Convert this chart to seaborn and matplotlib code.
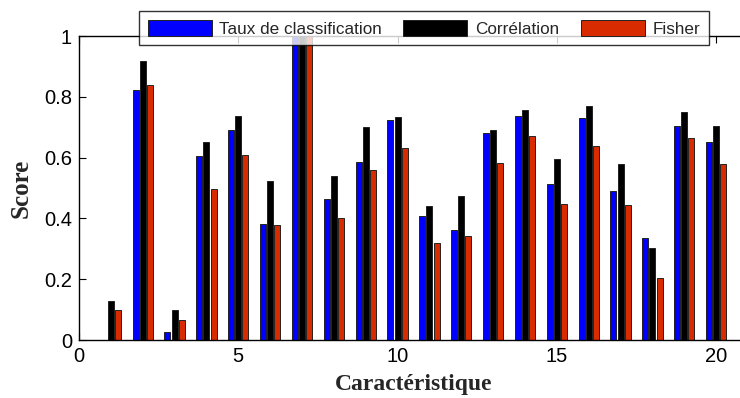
import numpy as np
import pandas as pd
import seaborn as sns
import matplotlib.pyplot as plt
from matplotlib.ticker import FixedLocator

features = list(range(1, 21))
taux = [0.0, 0.822, 0.027, 0.606, 0.690, 0.383, 1.0, 0.464, 0.584, 0.724,
        0.409, 0.361, 0.680, 0.736, 0.512, 0.729, 0.491, 0.336, 0.705, 0.651]
correlation = [0.129, 0.918, 0.099, 0.652, 0.736, 0.524, 1.0, 0.539, 0.702, 0.735,
               0.440, 0.473, 0.692, 0.758, 0.595, 0.770, 0.579, 0.302, 0.750, 0.704]
fisher = [0.099, 0.838, 0.066, 0.497, 0.610, 0.377, 1.0, 0.400, 0.560, 0.630,
          0.318, 0.343, 0.581, 0.672, 0.447, 0.639, 0.443, 0.205, 0.663, 0.580]
series_names = ["Taux de classification", "Corrélation", "Fisher"]
colors = ["#0000FF", "#000000", "#D92B00"]
yticks = [0, 0.2, 0.4, 0.6, 0.8, 1.0]
ytick_labels = ["0", "0.2", "0.4", "0.6", "0.8", "1"]
xticks = [0, 5, 10, 15, 20]

df = pd.DataFrame({
    "Caractéristique": features * 3,
    "Score": taux + correlation + fisher,
    "Méthode": [n for n in series_names for _ in features],
})

sns.set_theme(style="white")
plt.rcParams["font.family"] = ["Liberation Sans", "DejaVu Sans"]

fig = plt.figure(figsize=(7.4, 3.98), dpi=100)
ax = fig.add_axes([79 / 740, 1 - 340 / 398, (748 - 79) / 740, (340 - 36) / 398])

sns.barplot(data=df, x="Caractéristique", y="Score", hue="Méthode",
            hue_order=series_names, palette=dict(zip(series_names, colors)),
            native_scale=True, width=0.667, gap=0.15, errorbar=None,
            saturation=1, edgecolor="#222222", linewidth=0.7, ax=ax)

ax.set_xlim(0, 21)
ax.set_ylim(0, 1)
ax.xaxis.set_major_locator(FixedLocator(xticks))
ax.set_xticklabels([str(t) for t in xticks], fontsize=14.5)
ax.yaxis.set_major_locator(FixedLocator(yticks))
ax.set_yticklabels(ytick_labels, fontsize=14.5)
ax.tick_params(direction="in", length=5, width=0.8, top=True, right=True,
               bottom=True, left=True, pad=5, colors="black")
for s in ax.spines.values():
    s.set_visible(True)
    s.set_color("black")
    s.set_linewidth(1.0)

ax.set_xlabel("Caractéristique", family="Liberation Serif", fontweight="bold",
              fontsize=17, labelpad=6)
ax.set_ylabel("Score", family="Liberation Serif", fontweight="bold",
              fontsize=18, labelpad=8)

handles, labels = ax.get_legend_handles_labels()
if ax.get_legend() is not None:
    ax.get_legend().remove()
leg = ax.legend(handles, labels, ncol=3, loc="upper left",
                bbox_to_anchor=(139 / 740, 1 - 11 / 398),
                bbox_transform=fig.transFigure, fontsize=12.3,
                frameon=True, fancybox=False, edgecolor="black",
                handlelength=3.75, handleheight=1.15, columnspacing=1.25,
                handletextpad=0.45, borderpad=0.5, borderaxespad=0)
leg.get_frame().set_linewidth(1.0)
leg.set_zorder(10)

fig.savefig("out.png", dpi=100)
